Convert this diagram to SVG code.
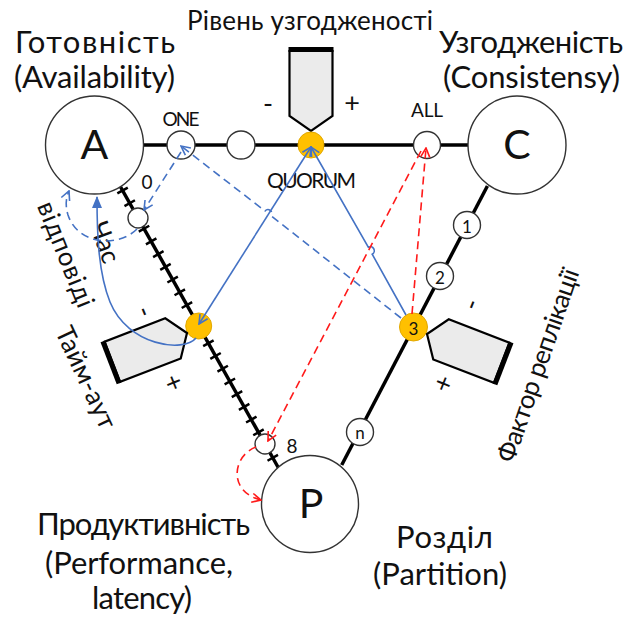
<svg xmlns="http://www.w3.org/2000/svg" width="625" height="621" viewBox="0 0 625 621">
<style>
text{font-family:"Lato","Open Sans","DejaVu Sans",sans-serif;fill:#111}
.ttl{font-size:31px}
.sub{font-size:26px}
.big{font-size:41px}
.lbl{font-size:19px}
.quorum{font-size:21px}
.num{font-size:17px}
.sign{font-size:27px}
.mid{text-anchor:middle}
.ctr{text-anchor:middle;dominant-baseline:central}
.axis{stroke:#000;stroke-width:3.5;fill:none}
.ticks{stroke:#000;stroke-width:12;fill:none;stroke-dasharray:2.5 12.1;stroke-dashoffset:-2.75}
.hub{fill:#fff;stroke:#333;stroke-width:1.4}
.dot{fill:#fff;stroke:#333;stroke-width:1.4}
.gold{fill:#ffc000;stroke:#e2a800;stroke-width:1}
.knob{fill:#ebebeb;stroke:#000;stroke-width:2.2;stroke-linejoin:miter}
.blue{stroke:#4472c4;stroke-width:1.6;fill:none}
.blue-d{stroke:#4472c4;stroke-width:1.6;fill:none;stroke-dasharray:8 5}
.red-d{stroke:#ff1a1a;stroke-width:1.6;fill:none;stroke-dasharray:8 5}
</style>
<defs>
  <marker id="arrow-blue" viewBox="0 0 12 12" refX="11" refY="6" markerWidth="12" markerHeight="12" markerUnits="userSpaceOnUse" orient="auto-start-reverse">
    <path d="M2,1.5 L11,6 L2,10.5" fill="none" stroke="#4472c4" stroke-width="1.6"/>
  </marker>
  <marker id="arrow-red" viewBox="0 0 12 12" refX="11" refY="6" markerWidth="12" markerHeight="12" markerUnits="userSpaceOnUse" orient="auto-start-reverse">
    <path d="M2,1.5 L11,6 L2,10.5" fill="none" stroke="#ff1a1a" stroke-width="1.6"/>
  </marker>
  <marker id="arrow-fill" viewBox="0 0 12 12" refX="11" refY="6" markerWidth="12" markerHeight="12" markerUnits="userSpaceOnUse" orient="auto">
    <path d="M0,1 L12,6 L0,11 Z" fill="#4472c4"/>
  </marker>
  <!-- slider knob: tip at origin, pointing down -->
  <g id="knob">
    <path class="knob" d="M-21.5,-80 L21.5,-80 L21.5,-15 L0,0 L-21.5,-15 Z"/>
    <rect x="-22.5" y="-84" width="45" height="5" fill="#000"/>
  </g>
</defs>

<!-- axes between the three properties -->
<g id="axes">
  <line class="axis" x1="144" y1="145" x2="468" y2="145"/>
  <line class="axis" x1="120.6" y1="187" x2="278.5" y2="468"/>
  <line class="ticks" x1="120.6" y1="187" x2="278.5" y2="468"/>
  <line class="axis" x1="487.4" y1="186" x2="341.7" y2="465"/>
</g>

<!-- vertices -->
<g id="node-a">
  <circle class="hub" cx="94.5" cy="145" r="49"/>
  <text class="big mid" x="94.5" y="159">A</text>
  <text class="ttl mid" x="95" y="53" textLength="160">Готовність</text>
  <text class="ttl mid" x="94.5" y="88" textLength="161">(Availability)</text>
</g>
<g id="node-c">
  <circle class="hub" cx="517" cy="145" r="49"/>
  <text class="big mid" x="517" y="159">C</text>
  <text class="ttl mid" x="531" y="53" textLength="184">Узгодженість</text>
  <text class="ttl mid" x="531.5" y="88" textLength="177">(Consistensy)</text>
</g>
<g id="node-p">
  <circle class="hub" cx="310" cy="504" r="48.5"/>
  <text class="big mid" x="311" y="518">P</text>
  <text class="ttl mid" x="143.5" y="535" textLength="213">Продуктивність</text>
  <text class="ttl mid" x="139" y="574" textLength="188">(Performance,</text>
  <text class="ttl mid" x="142" y="609" textLength="100">latency)</text>
  <text class="ttl mid" x="444.5" y="548" textLength="97">Розділ</text>
  <text class="ttl mid" x="440" y="585" textLength="134">(Partition)</text>
</g>

<!-- consistency level slider -->
<g id="consistency-level">
  <text class="sub mid" x="310" y="30" textLength="246">Рівень узгодженості</text>
  <use href="#knob" transform="translate(311,131)"/>
  <text class="sign ctr" x="268" y="102">-</text>
  <text class="sign ctr" x="352" y="101">+</text>
  <circle class="dot" cx="181" cy="145" r="14"/>
  <text class="lbl mid" x="181" y="126" textLength="37">ONE</text>
  <circle class="dot" cx="241" cy="145" r="14"/>
  <circle class="gold" cx="311" cy="145" r="13"/>
  <text class="quorum mid" x="311.5" y="188" textLength="89">QUORUM</text>
  <circle class="dot" cx="427" cy="145" r="13.5"/>
  <text class="lbl mid" x="427" y="117" textLength="32">ALL</text>
</g>

<!-- timeout slider -->
<g id="timeout">
  <circle class="dot" cx="138" cy="218" r="10"/>
  <text class="lbl mid" x="147" y="189">0</text>
  <circle class="gold" cx="198.7" cy="326" r="13"/>
  <circle class="dot" cx="265" cy="444" r="10"/>
  <text class="lbl mid" x="292" y="453">8</text>
  <use href="#knob" transform="translate(187,333) rotate(-111.1)"/>
  <text class="sign ctr" transform="translate(146,311) rotate(68)">-</text>
  <text class="sign ctr" transform="translate(175,382) rotate(68)">+</text>
  <text class="sub ctr" transform="translate(87,377) rotate(65)" textLength="110">Тайм-аут</text>
  <text class="sub ctr" transform="translate(67,254) rotate(68)" textLength="112">відповіді</text>
  <text class="sub ctr" transform="translate(106,242) rotate(70)" textLength="42">Час</text>
</g>

<!-- replication factor slider -->
<g id="replication">
  <circle class="dot" cx="467" cy="225" r="13.5"/>
  <text class="num ctr" x="467" y="226">1</text>
  <circle class="dot" cx="440" cy="276" r="13.5"/>
  <text class="num ctr" x="440" y="277">2</text>
  <circle class="gold" cx="413.5" cy="327" r="14"/>
  <text class="num ctr" x="413.5" y="328">3</text>
  <circle class="dot" cx="360" cy="432" r="13.5"/>
  <text class="num ctr" x="360" y="432">n</text>
  <use href="#knob" transform="translate(427,334) rotate(111.1)"/>
  <text class="sign ctr" transform="translate(470,304) rotate(-68)">-</text>
  <text class="sign ctr" transform="translate(442,383) rotate(-68)">+</text>
  <text class="sub ctr" transform="translate(537,365) rotate(-71)" textLength="203">Фактор реплікації</text>
</g>

<!-- dependencies between the settings -->
<g id="connectors">
  <path class="blue" d="M406,315 L372.2,254.2 A4,4 0 0 0 368.3,247.2 L311,147" marker-end="url(#arrow-blue)"/>
  <path class="blue" d="M199,324 L311,147" marker-start="url(#arrow-blue)" marker-end="url(#arrow-blue)"/>
  <path class="blue" d="M196,338 C184,353 128,346 110,302 C98,272 97,232 97,197" marker-end="url(#arrow-fill)"/>
  <path class="blue-d" d="M401,318 L271.3,215.9 A4,4 0 0 0 265,211 L181,146" marker-end="url(#arrow-blue)"/>
  <path class="blue-d" d="M181,152 L144,210" marker-end="url(#arrow-blue)"/>
  <path class="blue-d" d="M137,229 C118,248 78,245 68,215 C65,205 66,198 69,191" marker-end="url(#arrow-blue)"/>
  <path class="red-d" d="M412,314 L426,148" marker-end="url(#arrow-red)"/>
  <path class="red-d" d="M421,151 L268,441" marker-end="url(#arrow-red)"/>
  <path class="red-d" d="M256,447 C232,456 228,492 261,500" marker-end="url(#arrow-red)"/>
</g>
</svg>
